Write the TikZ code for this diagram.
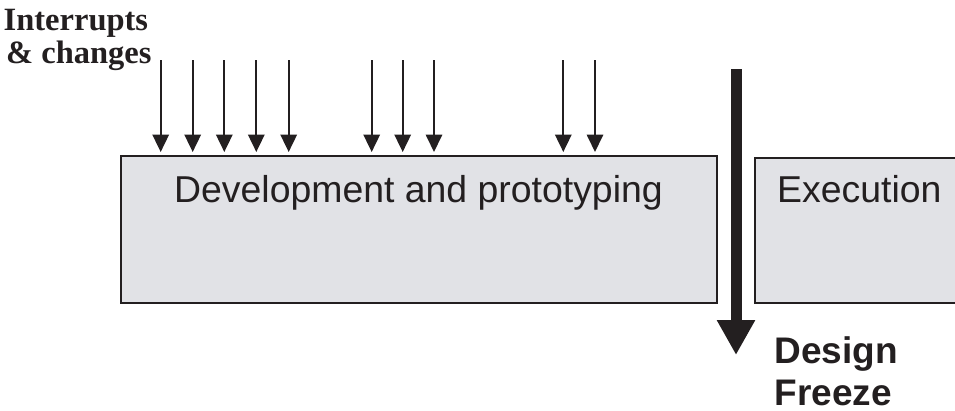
\documentclass[tikz,border=0pt]{standalone}
\usepackage{fontspec}
\setmainfont{Liberation Serif}
\newfontfamily\arialfont{Liberation Sans}
\usetikzlibrary{arrows.meta}
\definecolor{inkc}{HTML}{231F20}
\definecolor{boxfill}{HTML}{E1E2E6}
\tikzset{
  phasebox/.style={draw=inkc, line width=2pt, fill=boxfill, inner sep=0pt},
  boxlabel/.style={anchor=base west, inner sep=0pt, font=\arialfont\fontsize{37.4}{40}\selectfont, text=inkc},
  freezelabel/.style={anchor=base west, inner sep=0pt, font=\arialfont\bfseries\fontsize{37}{40}\selectfont, text=inkc},
  intlabel/.style={anchor=base west, inner sep=0pt, font=\bfseries\fontsize{32.5}{34}\selectfont, text=inkc},
  smallarrow/.style={draw=inkc, line width=1.8pt, -{Triangle[width=16.5pt,length=17.5pt]}, shorten >=3pt},
  bigarrow/.style={draw=inkc, line width=11pt, -{Triangle[width=36pt,length=35pt]}},
}
\begin{document}
\begin{tikzpicture}[x=1pt,y=-1pt]
\useasboundingbox (0,0) rectangle (955,410);
% boxes
\node[phasebox, minimum width=596pt, minimum height=147pt] (dev) at (419,229.5) {};
\node[phasebox, minimum width=240pt, minimum height=145pt, anchor=north west] (exe) at (754,157) {};
% box labels
\node[boxlabel] (devtxt) at (174,202.5) {Development and prototyping};
\node[boxlabel] (exetxt) at (777,202) {Execution};
% interrupts label
\node[intlabel] (int1) at (3.5,30.7) {Interrupts};
\node[intlabel] (int2) at (6,63.3) {\& changes};
% small arrows
\foreach \i/\x in {1/160.7,2/192.7,3/224.3,4/256.3,5/288.7,6/371.7,7/402.7,8/434,9/563.3,10/595}{
  \coordinate (s\i) at (\x,60);
  \draw[smallarrow] (s\i) -- (s\i |- dev.north);
}
% design freeze arrow
\coordinate (fz1) at (736,69);
\coordinate (fz2) at (736,355);
\draw[bigarrow] (fz1) -- (fz2);
\node[freezelabel] (dz1) at (774.5,363) {Design};
\node[freezelabel] (dz2) at (774.5,405) {Freeze};
\end{tikzpicture}
\end{document}
